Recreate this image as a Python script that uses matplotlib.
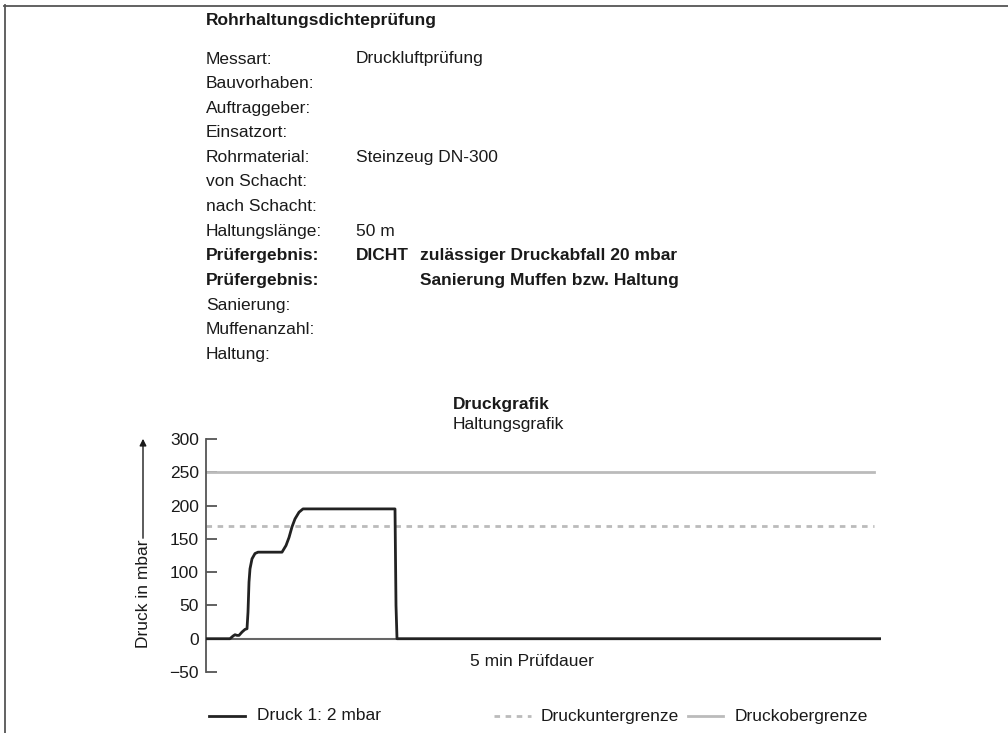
import matplotlib.pyplot as plt
from matplotlib.lines import Line2D

plt.rcParams['font.family'] = ['Liberation Sans', 'DejaVu Sans']

# ---------------------------------------------------------
# Data
# ---------------------------------------------------------
time_s = [0, 24, 27, 29, 31, 33, 36, 39, 41, 42, 43, 44, 46, 49, 52,
          76, 80, 83, 86, 89, 93, 97, 100, 189, 190, 191, 675]
druck_mbar = [0, 0, 4, 6, 5, 5, 10, 14, 15, 40, 85, 105, 120, 128, 130,
              130, 140, 152, 168, 180, 190, 195, 195, 195, 50, 0, 0]
limit_end = 668
unter_grenze = 170
ober_grenze = 250

yticks = [-50, 0, 50, 100, 150, 200, 250, 300]

info_labels = ["Messart:", "Bauvorhaben:", "Auftraggeber:", "Einsatzort:",
               "Rohrmaterial:", "von Schacht:", "nach Schacht:", "Haltungslänge:",
               "Prüfergebnis:", "Prüfergebnis:", "Sanierung:", "Muffenanzahl:", "Haltung:"]
info_values = ["Druckluftprüfung", "", "", "", "Steinzeug DN-300", "", "", "50 m",
               "DICHT", "", "", "", ""]
info_extra = ["", "", "", "", "", "", "", "",
              "zulässiger Druckabfall 20 mbar", "Sanierung Muffen bzw. Haltung", "", "", ""]
bold_rows = [8, 9]

W, H = 1008, 733
fig = plt.figure(figsize=(W / 100, H / 100), dpi=100)

def fx(px):
    return px / W

def fy(py):
    return 1 - py / H

# frame lines (left and top)
fig.add_artist(Line2D([fx(4.5), fx(4.5)], [fy(5), 0], color='#555555', lw=1.3))
fig.add_artist(Line2D([fx(4), 1], [fy(5.5), fy(5.5)], color='#555555', lw=1.3))

# ---------------------------------------------------------
# Header text block
# ---------------------------------------------------------
fs = 12.5
fig.text(fx(206), fy(20), "Rohrhaltungsdichteprüfung", fontsize=fs, fontweight='bold',
         va='center', ha='left', color='#1a1a1a')
for i, (lab, val, ext) in enumerate(zip(info_labels, info_values, info_extra)):
    y = fy(59 + i * 24.6)
    w = 'bold' if i in bold_rows else 'normal'
    fig.text(fx(206), y, lab, fontsize=fs, fontweight=w, va='center', color='#1a1a1a')
    if val:
        fig.text(fx(356), y, val, fontsize=fs, fontweight=w, va='center', color='#1a1a1a')
    if ext:
        fig.text(fx(420), y, ext, fontsize=fs, fontweight=w, va='center', color='#1a1a1a')

fig.text(fx(453), fy(404), "Druckgrafik", fontsize=fs, fontweight='bold', va='center',
         color='#1a1a1a')
fig.text(fx(453), fy(424), "Haltungsgrafik", fontsize=fs, va='center', color='#1a1a1a')

# ---------------------------------------------------------
# Plot
# ---------------------------------------------------------
ax = fig.add_axes([fx(206), fy(672), fx(881) - fx(206), fy(439) - fy(672)])
ax.set_xlim(0, 675)
ax.set_ylim(-50, 300)

ax.axhline(0, color='#666666', lw=1.5, zorder=1)
ax.plot([0, limit_end], [ober_grenze, ober_grenze], color='#bbbbbb', lw=2.0, zorder=2)
ax.plot([0, limit_end], [unter_grenze, unter_grenze], color='#bbbbbb', lw=2.0,
        dashes=(2, 2), zorder=2)
ax.plot(time_s, druck_mbar, color='#222222', lw=2.0, zorder=3, solid_joinstyle='round')

for s in ['top', 'right', 'bottom']:
    ax.spines[s].set_visible(False)
ax.spines['left'].set_color('#555555')
ax.spines['left'].set_linewidth(1.3)
ax.set_xticks([])
ax.set_yticks(yticks)
ax.set_yticklabels([str(v).replace('-', '\u2212') for v in yticks])
ax.tick_params(axis='y', direction='in', length=8, width=1.3, color='#555555',
               labelsize=fs, labelcolor='#1a1a1a', pad=5)

# y label with arrow
fig.text(fx(143), fy(594), "Druck in mbar", rotation=90, fontsize=fs, va='center',
         ha='center', color='#1a1a1a')
ax.annotate("", xy=(fx(143), fy(436)), xytext=(fx(143), fy(541)),
            xycoords='figure fraction', textcoords='figure fraction',
            arrowprops=dict(arrowstyle='-|>', color='#1a1a1a', lw=1.0,
                            mutation_scale=10))

fig.text(fx(470), fy(661), "5 min Prüfdauer", fontsize=fs, va='center', color='#1a1a1a')

# ---------------------------------------------------------
# Legend
# ---------------------------------------------------------
ly = fy(716)
fig.add_artist(Line2D([fx(209), fx(245)], [ly, ly], color='#222222', lw=2.0))
fig.text(fx(257), ly, "Druck 1: 2 mbar", fontsize=fs, va='center', color='#1a1a1a')
fig.add_artist(Line2D([fx(494), fx(531)], [ly, ly], color='#bbbbbb', lw=2.0, dashes=(2, 2)))
fig.text(fx(541), ly, "Druckuntergrenze", fontsize=fs, va='center', color='#1a1a1a')
fig.add_artist(Line2D([fx(688), fx(723)], [ly, ly], color='#bbbbbb', lw=2.0))
fig.text(fx(735), ly, "Druckobergrenze", fontsize=fs, va='center', color='#1a1a1a')

fig.savefig("out.png", dpi=100)
